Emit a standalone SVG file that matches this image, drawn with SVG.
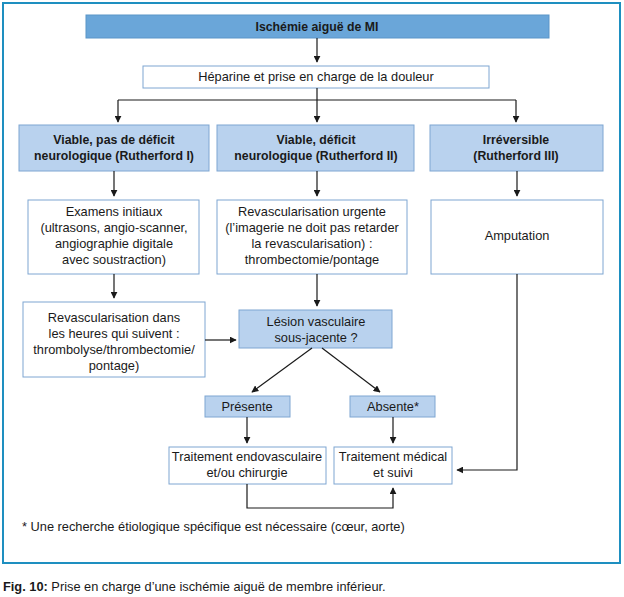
<svg xmlns="http://www.w3.org/2000/svg" width="624" height="597" viewBox="0 0 624 597">
<style>
text{font-family:"Liberation Sans",Arial,sans-serif;font-size:12.8px;fill:#1a1a1a;text-anchor:middle}
.b{font-weight:bold;font-size:12.3px}
.dark{fill:#6aa6d9;stroke:#5a95c8;stroke-width:1}
.light{fill:#b9d2ee;stroke:#7ea6d2;stroke-width:1}
.white{fill:#ffffff;stroke:#7ea6d2;stroke-width:1}
.c{stroke:#1a1a1a;stroke-width:1.2;fill:none}
</style>
<defs>
<marker id="ah" viewBox="0 0 10 10" refX="9" refY="5" markerWidth="7" markerHeight="7" markerUnits="userSpaceOnUse" orient="auto">
<path d="M0,0 L10,5 L0,10 z" fill="#1a1a1a"/>
</marker>
</defs>
<rect x="3" y="3" width="617" height="560" fill="#ffffff" stroke="#1e8fc0" stroke-width="2"/>
<g id="n-title"><rect class="dark" x="86" y="15" width="463" height="23"/><text class="b" x="317" y="31">Ischémie aiguë de MI</text></g>
<g id="n-heparine"><rect class="white" x="143" y="66" width="346" height="22"/><text x="316" y="81">Héparine et prise en charge de la douleur</text></g>
<g id="n-r1"><rect class="light" x="19" y="125" width="190" height="46"/><text class="b" x="114" y="144">Viable, pas de déficit</text><text class="b" x="114" y="160">neurologique (Rutherford I)</text></g>
<g id="n-r2"><rect class="light" x="217" y="125" width="197" height="46"/><text class="b" x="316" y="144">Viable, déficit</text><text class="b" x="316" y="160">neurologique (Rutherford II)</text></g>
<g id="n-r3"><rect class="light" x="430" y="125" width="173" height="46"/><text class="b" x="516" y="144">Irréversible</text><text class="b" x="516" y="160">(Rutherford III)</text></g>
<g id="n-examens"><rect class="white" x="28" y="200" width="171" height="74"/><text x="114" y="216">Examens initiaux</text><text x="114" y="232">(ultrasons, angio-scanner,</text><text x="114" y="248">angiographie digitale</text><text x="114" y="264">avec soustraction)</text></g>
<g id="n-revurg"><rect class="white" x="217" y="200" width="190" height="74"/><text x="312" y="216">Revascularisation urgente</text><text x="312" y="232">(l’imagerie ne doit pas retarder</text><text x="312" y="248">la revascularisation) :</text><text x="312" y="264">thrombectomie/pontage</text></g>
<g id="n-amput"><rect class="white" x="431" y="200" width="172" height="74"/><text x="517" y="240">Amputation</text></g>
<g id="n-revheures"><rect class="white" x="23" y="302" width="182" height="75"/><text x="114" y="322">Revascularisation dans</text><text x="114" y="338">les heures qui suivent :</text><text x="114" y="354">thrombolyse/thrombectomie/</text><text x="114" y="370">pontage)</text></g>
<g id="n-lesion"><rect class="light" x="239" y="310" width="153" height="38"/><text x="316" y="326">Lésion vasculaire</text><text x="316" y="342">sous-jacente ?</text></g>
<g id="n-presente"><rect class="light" x="205" y="396" width="85" height="21"/><text x="247" y="411">Présente</text></g>
<g id="n-absente"><rect class="light" x="350" y="396" width="85" height="21"/><text x="393" y="411">Absente*</text></g>
<g id="n-endo"><rect class="white" x="169" y="447" width="157" height="37"/><text x="247" y="461">Traitement endovasculaire</text><text x="247" y="477">et/ou chirurgie</text></g>
<g id="n-medical"><rect class="white" x="334" y="447" width="118" height="37"/><text x="393" y="461">Traitement médical</text><text x="393" y="477">et suivi</text></g>
<g id="connectors">
<path class="c" d="M317,38 V62" marker-end="url(#ah)"/>
<path class="c" d="M317,88 V122" marker-end="url(#ah)"/>
<path class="c" d="M118,100 H516"/>
<path class="c" d="M118,100 V122" marker-end="url(#ah)"/>
<path class="c" d="M516,100 V122" marker-end="url(#ah)"/>
<path class="c" d="M114,171 V196" marker-end="url(#ah)"/>
<path class="c" d="M317,171 V196" marker-end="url(#ah)"/>
<path class="c" d="M517,171 V196" marker-end="url(#ah)"/>
<path class="c" d="M114,274 V298" marker-end="url(#ah)"/>
<path class="c" d="M317,274 V306" marker-end="url(#ah)"/>
<path class="c" d="M205,340 H236" marker-end="url(#ah)"/>
<path class="c" d="M312,348 L252,392" marker-end="url(#ah)"/>
<path class="c" d="M322,348 L380,392" marker-end="url(#ah)"/>
<path class="c" d="M247,417 V443" marker-end="url(#ah)"/>
<path class="c" d="M393,417 V443" marker-end="url(#ah)"/>
<path class="c" d="M247,484 V508 H393 V488" marker-end="url(#ah)"/>
<path class="c" d="M517,274 V470 H457" marker-end="url(#ah)"/>
</g>
<text x="22" y="531" style="text-anchor:start">* Une recherche étiologique spécifique est nécessaire (cœur, aorte)</text>
<text x="3" y="591" style="text-anchor:start"><tspan font-weight="bold">Fig. 10:</tspan> Prise en charge d’une ischémie aiguë de membre inférieur.</text>
</svg>
